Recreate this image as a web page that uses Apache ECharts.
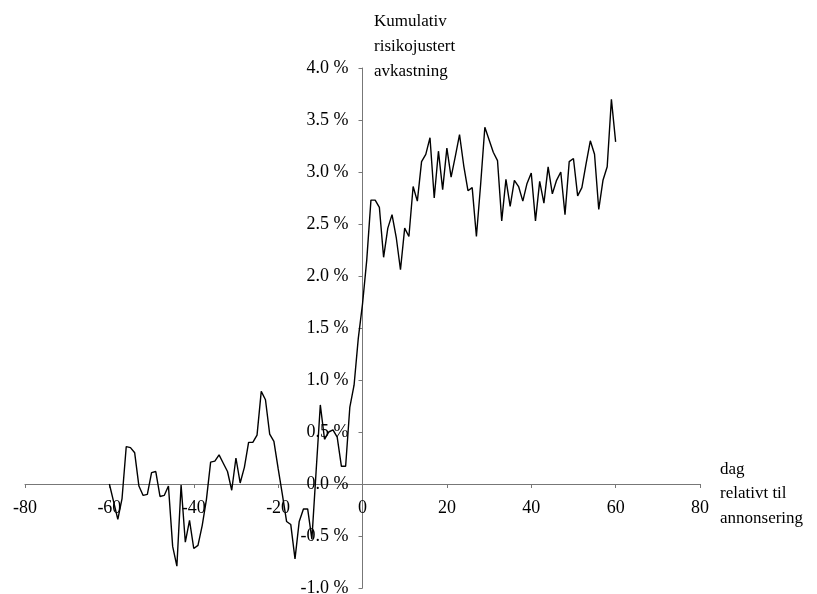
<!DOCTYPE html>
<html>
<head>
<meta charset="utf-8">
<script src="https://cdn.jsdelivr.net/npm/echarts@6/dist/echarts.min.js"></script>
<style>
  html, body { margin: 0; padding: 0; background: #fff; }
  #chart { width: 817px; height: 594px; }
</style>
</head>
<body>
<div id="chart"></div>
<script>
// event window: day -60 .. 60
var firstDay = -60;
// cumulative risk adjusted return, percent
var carValues = [
  0.00, -0.17, -0.34, -0.14, 0.36, 0.35, 0.30, -0.02, -0.11, -0.10,
  0.11, 0.12, -0.12, -0.11, -0.02, -0.60, -0.79, -0.01, -0.56, -0.35,
  -0.62, -0.59, -0.40, -0.15, 0.21, 0.22, 0.28, 0.20, 0.12, -0.06,
  0.25, 0.01, 0.16, 0.40, 0.40, 0.47, 0.89, 0.81, 0.48, 0.41,
  0.15, -0.10, -0.36, -0.39, -0.72, -0.36, -0.24, -0.24, -0.53, 0.12,
  0.76, 0.43, 0.50, 0.52, 0.45, 0.17, 0.17, 0.74, 0.95, 1.40,
  1.73, 2.15, 2.73, 2.73, 2.66, 2.18, 2.46, 2.59, 2.37, 2.06,
  2.46, 2.38, 2.86, 2.72, 3.10, 3.17, 3.33, 2.75, 3.20, 2.83,
  3.23, 2.95, 3.15, 3.36, 3.06, 2.82, 2.85, 2.38, 2.88, 3.43,
  3.31, 3.19, 3.11, 2.53, 2.93, 2.67, 2.92, 2.86, 2.72, 2.89,
  2.99, 2.53, 2.91, 2.70, 3.05, 2.79, 2.92, 3.00, 2.59, 3.10,
  3.13, 2.77, 2.85, 3.08, 3.30, 3.17, 2.64, 2.92, 3.05, 3.70,
  3.29
];
var yTitle = ['Kumulativ', 'risikojustert', 'avkastning'];
var xTitle = ['dag', 'relativt til', 'annonsering'];

var font = 'Liberation Serif';
var seriesData = [];
for (var i = 0; i < carValues.length; i++) {
  seriesData.push([firstDay + i, carValues[i]]);
}

// plot box, axes are moved to the zero lines with offset
var W = 817, H = 594;
var gLeft = 25, gRight = 117, gTop = 68, gBottom = 6;
var xMin = -80, xMax = 80, yMin = -1, yMax = 4;
var plotW = W - gLeft - gRight, plotH = H - gTop - gBottom;
var yOffset = -plotW * (0 - xMin) / (xMax - xMin);
var xOffset = -plotH * (0 - yMin) / (yMax - yMin);

var myChart = echarts.init(document.getElementById('chart'));
var option = {
  animation: false,
  backgroundColor: '#fff',
  grid: { left: gLeft, right: gRight, top: gTop, bottom: gBottom, containLabel: false, outerBoundsMode: 'none' },
  xAxis: {
    type: 'value',
    min: xMin,
    max: xMax,
    interval: 20,
    position: 'bottom',
    offset: xOffset,
    axisLine: { onZero: false, lineStyle: { color: '#777', width: 1 } },
    axisTick: { show: true, inside: false, length: 4, lineStyle: { color: '#777' } },
    axisLabel: { color: '#000', fontFamily: font, fontSize: 18, margin: 15, hideOverlap: false },
    splitLine: { show: false }
  },
  yAxis: {
    type: 'value',
    min: yMin,
    max: yMax,
    interval: 0.5,
    position: 'left',
    offset: yOffset,
    axisLine: { show: true, onZero: false, lineStyle: { color: '#777', width: 1 } },
    axisTick: { show: true, inside: false, length: 4, lineStyle: { color: '#777' } },
    axisLabel: {
      color: '#000', fontFamily: font, fontSize: 18, margin: 14, hideOverlap: false,
      formatter: function (v) { return v.toFixed(1) + ' %'; }
    },
    splitLine: { show: false }
  },
  graphic: [
    {
      type: 'text', left: 374, top: 9,
      style: { text: yTitle.join('\n'), font: '17px "Liberation Serif"', fill: '#000', lineHeight: 25 }
    },
    {
      type: 'text', left: 720, top: 457,
      style: { text: xTitle.join('\n'), font: '17px "Liberation Serif"', fill: '#000', lineHeight: 24.5 }
    }
  ],
  series: [{
    type: 'line',
    data: seriesData,
    showSymbol: false,
    smooth: false,
    lineStyle: { color: '#000', width: 1.4 }
  }]
};
myChart.setOption(option);
</script>
</body>
</html>
